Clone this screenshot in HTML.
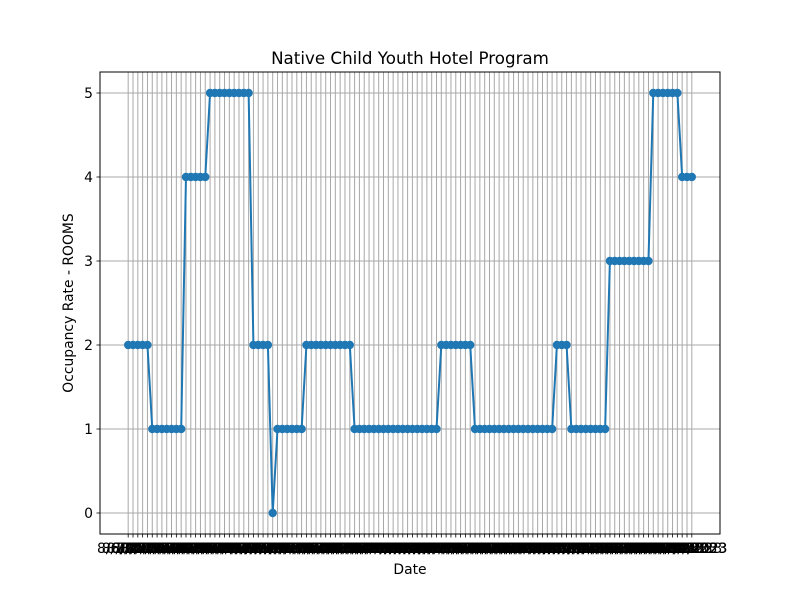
<!DOCTYPE html>
<html><head><meta charset="utf-8"><style>body{margin:0;background:#fff}svg{display:block;font-family:"DejaVu Sans","Liberation Sans",sans-serif}</style></head>
<body>
<svg id="chart" width="800" height="600" xmlns="http://www.w3.org/2000/svg">
<rect x="0" y="0" width="800" height="600" fill="#fff"/>
<g id="grid"></g>
<g id="ticks"></g>
<g id="series"></g>
<rect x="100" y="72" width="620" height="462" fill="none" stroke="#000" stroke-width="1"/>
<text x="410" y="64" text-anchor="middle" font-size="16.7">Native Child Youth Hotel Program</text>
<text x="410" y="574" text-anchor="middle" font-size="13.9">Date</text>
<text transform="translate(73,303) rotate(-90)" text-anchor="middle" font-size="13.9">Occupancy Rate - ROOMS</text>
</svg>
<script>
const runs = [[2,5],[1,7],[4,5],[5,9],[2,4],[0,1],[1,6],[2,10],[1,18],[2,7],[1,17],[2,3],[1,8],[3,9],[5,6],[4,3]];
const values = [];
runs.forEach(r => { for (let i = 0; i < r[1]; i++) values.push(r[0]); });
const categories = [];
const start = new Date(2023, 7, 6);
for (let i = 0; i < values.length; i++) { const d = new Date(start.getTime() + i * 86400000 + 43200000); categories.push((d.getMonth()+1) + '/' + d.getDate() + '/' + d.getFullYear()); }
const yTicks = [0,1,2,3,4,5];

const NS = 'http://www.w3.org/2000/svg';
const L = 100, R = 720, T = 72, B = 534;
const n = categories.length;
const xmin = -0.05*(n-1), xmax = (n-1)*1.05;
const ymin = -0.25, ymax = 5.25;
const xs = i => L + (i - xmin) / (xmax - xmin) * (R - L);
const ys = v => B - (v - ymin) / (ymax - ymin) * (B - T);
const mk = (tag, attrs, parent) => { const e = document.createElementNS(NS, tag); for (const k in attrs) e.setAttribute(k, attrs[k]); parent.appendChild(e); return e; };
const grid = document.getElementById('grid'), ticks = document.getElementById('ticks'), series = document.getElementById('series');

categories.forEach((c, i) => {
  const x = xs(i);
  const g = mk('line', {x1:x, x2:x, y1:T, y2:B, stroke:'#a8a8a8', 'stroke-width':1}, grid);
  
  
  const t = mk('line', {x1:x, x2:x, y1:B, y2:B+3.5, stroke:'#000', 'stroke-width':0.8}, ticks);
  
  
  const lb = mk('text', {x:x, y:B+19, 'text-anchor':'middle', 'font-size':13.9}, ticks);
  lb.textContent = c;
  
  
});
yTicks.forEach(v => {
  const y = ys(v);
  const g = mk('line', {x1:L, x2:R, y1:y, y2:y, stroke:'#a8a8a8', 'stroke-width':1}, grid);
  
  
  const t = mk('line', {x1:L-3.5, x2:L, y1:y, y2:y, stroke:'#000', 'stroke-width':0.8}, ticks);
  
  
  const lb = mk('text', {x:L-7, y:y+5, 'text-anchor':'end', 'font-size':13.9}, ticks);
  lb.textContent = v;
  
  
});
const pts = values.map((v, i) => xs(i).toFixed(2) + ',' + ys(v).toFixed(2)).join(' ');
const pl = mk('polyline', {points:pts, fill:'none', stroke:'#1f77b4', 'stroke-width':2}, series);


values.forEach((v, i) => {
  const c = mk('circle', {cx:xs(i), cy:ys(v), r:4.2, fill:'#1f77b4'}, series);
  
  
});
</script>
</body></html>
